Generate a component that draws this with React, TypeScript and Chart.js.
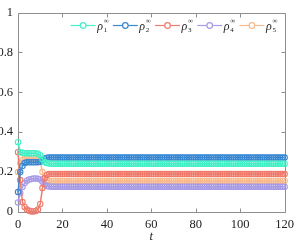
import React, { useEffect, useRef } from "react";
import { Chart, registerables } from "chart.js";
Chart.register(...registerables);

const tValues = [
  0, 1, 2, 3, 4, 5, 6, 7, 8, 9, 10, 11, 12, 13, 14, 15, 16, 17, 18, 19,
  20, 21, 22, 23, 24, 25, 26, 27, 28, 29, 30, 31, 32, 33, 34, 35, 36, 37, 38, 39,
  40, 41, 42, 43, 44, 45, 46, 47, 48, 49, 50, 51, 52, 53, 54, 55, 56, 57, 58, 59,
  60, 61, 62, 63, 64, 65, 66, 67, 68, 69, 70, 71, 72, 73, 74, 75, 76, 77, 78, 79,
  80, 81, 82, 83, 84, 85, 86, 87, 88, 89, 90, 91, 92, 93, 94, 95, 96, 97, 98, 99,
  100, 101, 102, 103, 104, 105, 106, 107, 108, 109, 110, 111, 112, 113, 114, 115, 116, 117, 118, 119,
  120,
];

const rho1 = [
  0.35, 0.30, 0.297, 0.295, 0.295, 0.295, 0.295, 0.295, 0.294, 0.292, 0.285, 0.265, 0.25, 0.245, 0.243,
  0.242, 0.242, 0.242, 0.242, 0.242, 0.242, 0.242, 0.242, 0.242, 0.242,
  0.242, 0.242, 0.242, 0.242, 0.242, 0.242, 0.242, 0.242, 0.242, 0.242,
  0.242, 0.242, 0.242, 0.242, 0.242, 0.242, 0.242, 0.242, 0.242, 0.242,
  0.242, 0.242, 0.242, 0.242, 0.242, 0.242, 0.242, 0.242, 0.242, 0.242,
  0.242, 0.242, 0.242, 0.242, 0.242, 0.242, 0.242, 0.242, 0.242, 0.242,
  0.242, 0.242, 0.242, 0.242, 0.242, 0.242, 0.242, 0.242, 0.242, 0.242,
  0.242, 0.242, 0.242, 0.242, 0.242, 0.242, 0.242, 0.242, 0.242, 0.242,
  0.242, 0.242, 0.242, 0.242, 0.242, 0.242, 0.242, 0.242, 0.242, 0.242,
  0.242, 0.242, 0.242, 0.242, 0.242, 0.242, 0.242, 0.242, 0.242, 0.242,
  0.242, 0.242, 0.242, 0.242, 0.242, 0.242, 0.242, 0.242, 0.242, 0.242,
  0.242, 0.242, 0.242, 0.242, 0.242, 0.242,
];

const rho2 = [
  0.10, 0.20, 0.23, 0.245, 0.25, 0.25, 0.25, 0.25, 0.25, 0.25, 0.252, 0.26, 0.268, 0.272, 0.273,
  0.273, 0.273, 0.273, 0.273, 0.273, 0.273, 0.273, 0.273, 0.273, 0.273,
  0.273, 0.273, 0.273, 0.273, 0.273, 0.273, 0.273, 0.273, 0.273, 0.273,
  0.273, 0.273, 0.273, 0.273, 0.273, 0.273, 0.273, 0.273, 0.273, 0.273,
  0.273, 0.273, 0.273, 0.273, 0.273, 0.273, 0.273, 0.273, 0.273, 0.273,
  0.273, 0.273, 0.273, 0.273, 0.273, 0.273, 0.273, 0.273, 0.273, 0.273,
  0.273, 0.273, 0.273, 0.273, 0.273, 0.273, 0.273, 0.273, 0.273, 0.273,
  0.273, 0.273, 0.273, 0.273, 0.273, 0.273, 0.273, 0.273, 0.273, 0.273,
  0.273, 0.273, 0.273, 0.273, 0.273, 0.273, 0.273, 0.273, 0.273, 0.273,
  0.273, 0.273, 0.273, 0.273, 0.273, 0.273, 0.273, 0.273, 0.273, 0.273,
  0.273, 0.273, 0.273, 0.273, 0.273, 0.273, 0.273, 0.273, 0.273, 0.273,
  0.273, 0.273, 0.273, 0.273, 0.273, 0.273,
];

const rho3 = [
  0.30, 0.16, 0.05, 0.025, 0.012, 0.006, 0.003, 0.003, 0.005, 0.012, 0.04, 0.12, 0.17, 0.185, 0.19,
  0.19, 0.19, 0.19, 0.19, 0.19, 0.19, 0.19, 0.19, 0.19, 0.19,
  0.19, 0.19, 0.19, 0.19, 0.19, 0.19, 0.19, 0.19, 0.19, 0.19,
  0.19, 0.19, 0.19, 0.19, 0.19, 0.19, 0.19, 0.19, 0.19, 0.19,
  0.19, 0.19, 0.19, 0.19, 0.19, 0.19, 0.19, 0.19, 0.19, 0.19,
  0.19, 0.19, 0.19, 0.19, 0.19, 0.19, 0.19, 0.19, 0.19, 0.19,
  0.19, 0.19, 0.19, 0.19, 0.19, 0.19, 0.19, 0.19, 0.19, 0.19,
  0.19, 0.19, 0.19, 0.19, 0.19, 0.19, 0.19, 0.19, 0.19, 0.19,
  0.19, 0.19, 0.19, 0.19, 0.19, 0.19, 0.19, 0.19, 0.19, 0.19,
  0.19, 0.19, 0.19, 0.19, 0.19, 0.19, 0.19, 0.19, 0.19, 0.19,
  0.19, 0.19, 0.19, 0.19, 0.19, 0.19, 0.19, 0.19, 0.19, 0.19,
  0.19, 0.19, 0.19, 0.19, 0.19, 0.19,
];

const rho4 = [
  0.048, 0.095, 0.125, 0.145, 0.157, 0.163, 0.166, 0.168, 0.168, 0.167, 0.163, 0.152, 0.138, 0.13, 0.128,
  0.127, 0.127, 0.127, 0.127, 0.127, 0.127, 0.127, 0.127, 0.127, 0.127,
  0.127, 0.127, 0.127, 0.127, 0.127, 0.127, 0.127, 0.127, 0.127, 0.127,
  0.127, 0.127, 0.127, 0.127, 0.127, 0.127, 0.127, 0.127, 0.127, 0.127,
  0.127, 0.127, 0.127, 0.127, 0.127, 0.127, 0.127, 0.127, 0.127, 0.127,
  0.127, 0.127, 0.127, 0.127, 0.127, 0.127, 0.127, 0.127, 0.127, 0.127,
  0.127, 0.127, 0.127, 0.127, 0.127, 0.127, 0.127, 0.127, 0.127, 0.127,
  0.127, 0.127, 0.127, 0.127, 0.127, 0.127, 0.127, 0.127, 0.127, 0.127,
  0.127, 0.127, 0.127, 0.127, 0.127, 0.127, 0.127, 0.127, 0.127, 0.127,
  0.127, 0.127, 0.127, 0.127, 0.127, 0.127, 0.127, 0.127, 0.127, 0.127,
  0.127, 0.127, 0.127, 0.127, 0.127, 0.127, 0.127, 0.127, 0.127, 0.127,
  0.127, 0.127, 0.127, 0.127, 0.127, 0.127,
];

const rho5 = [
  0.20, 0.245, 0.26, 0.268, 0.27, 0.27, 0.27, 0.27, 0.27, 0.268, 0.255, 0.20, 0.167, 0.158, 0.156,
  0.156, 0.156, 0.156, 0.156, 0.156, 0.156, 0.156, 0.156, 0.156, 0.156,
  0.156, 0.156, 0.156, 0.156, 0.156, 0.156, 0.156, 0.156, 0.156, 0.156,
  0.156, 0.156, 0.156, 0.156, 0.156, 0.156, 0.156, 0.156, 0.156, 0.156,
  0.156, 0.156, 0.156, 0.156, 0.156, 0.156, 0.156, 0.156, 0.156, 0.156,
  0.156, 0.156, 0.156, 0.156, 0.156, 0.156, 0.156, 0.156, 0.156, 0.156,
  0.156, 0.156, 0.156, 0.156, 0.156, 0.156, 0.156, 0.156, 0.156, 0.156,
  0.156, 0.156, 0.156, 0.156, 0.156, 0.156, 0.156, 0.156, 0.156, 0.156,
  0.156, 0.156, 0.156, 0.156, 0.156, 0.156, 0.156, 0.156, 0.156, 0.156,
  0.156, 0.156, 0.156, 0.156, 0.156, 0.156, 0.156, 0.156, 0.156, 0.156,
  0.156, 0.156, 0.156, 0.156, 0.156, 0.156, 0.156, 0.156, 0.156, 0.156,
  0.156, 0.156, 0.156, 0.156, 0.156, 0.156,
];

const seriesSubscripts = ["1", "2", "3", "4", "5"];
const seriesColors = ["#45f0c6", "#3a88d2", "#ef7b6c", "#a79ae6", "#f8b98c"];
const xTicks = [0, 20, 40, 60, 80, 100, 120];
const yTicks = [0, 0.2, 0.4, 0.6, 0.8, 1];

const SERIF = '"Liberation Serif", "DejaVu Serif", serif';
const FRAME = "#8e8e8e";

const framePlugin = {
  id: "frame",
  beforeDatasetsDraw(chart: any) {
    const { ctx, chartArea: a, scales } = chart;
    const x = scales.x;
    const y = scales.y;
    const L = Math.round(a.left) + 0.5;
    const R = Math.round(a.right) + 0.5;
    const T = Math.round(a.top) + 0.5;
    const B = Math.round(a.bottom) + 0.5;
    ctx.save();
    ctx.strokeStyle = FRAME;
    ctx.lineWidth = 1;
    ctx.beginPath();
    ctx.rect(L, T, R - L, B - T);
    ctx.stroke();
    const tl = 4;
    ctx.beginPath();
    for (const v of xTicks) {
      const px = Math.round(x.getPixelForValue(v)) + 0.5;
      ctx.moveTo(px, B);
      ctx.lineTo(px, B - tl);
      ctx.moveTo(px, T);
      ctx.lineTo(px, T + tl);
    }
    for (const v of yTicks) {
      const py = Math.round(y.getPixelForValue(v)) + 0.5;
      ctx.moveTo(L, py);
      ctx.lineTo(L + tl, py);
      ctx.moveTo(R, py);
      ctx.lineTo(R - tl, py);
    }
    ctx.stroke();
    ctx.restore();
  },
};

const legendPlugin = {
  id: "customLegend",
  afterDraw(chart: any) {
    const { ctx, chartArea: a } = chart;
    const startX = a.right - 214;
    const ly = a.top + 13;
    const step = 42.2;
    ctx.save();
    chart.data.datasets.forEach((ds: any, i: number) => {
      const x0 = startX + i * step;
      ctx.strokeStyle = ds.borderColor;
      ctx.lineWidth = 1.2;
      ctx.beginPath();
      ctx.moveTo(x0, ly);
      ctx.lineTo(x0 + 25, ly);
      ctx.stroke();
      ctx.beginPath();
      ctx.arc(x0 + 12.5, ly, 2.8, 0, Math.PI * 2);
      ctx.fillStyle = "#fff";
      ctx.fill();
      ctx.stroke();
      ctx.fillStyle = "#222";
      ctx.textBaseline = "middle";
      ctx.textAlign = "left";
      ctx.font = `italic 12px ${SERIF}`;
      ctx.fillText("ρ", x0 + 26.5, ly + 1.5);
      ctx.font = `7px ${SERIF}`;
      ctx.fillText("∞", x0 + 33, ly - 4);
      ctx.fillText(seriesSubscripts[i], x0 + 33, ly + 5);
    });
    ctx.restore();
  },
};

export default function App() {
  const ref = useRef<HTMLCanvasElement | null>(null);
  useEffect(() => {
    if (!ref.current) return;
    const series = [rho1, rho2, rho3, rho4, rho5];
    const chart = new Chart(ref.current, {
      type: "line",
      data: {
        labels: tValues,
        datasets: series.map((d, i) => ({
          label: "ρ" + seriesSubscripts[i] + "∞",
          data: d,
          borderColor: seriesColors[i],
          backgroundColor: "transparent",
          pointBackgroundColor: "transparent",
          pointBorderColor: seriesColors[i],
          borderWidth: 1.5,
          pointRadius: 2.7,
          pointBorderWidth: 1.1,
          tension: 0,
          clip: false as any,
        })),
      },
      options: {
        animation: false,
        responsive: false,
        events: [],
        layout: { padding: { top: 6, right: 10, bottom: 0, left: 0 } },
        plugins: {
          legend: { display: false },
          tooltip: { enabled: false },
        },
        scales: {
          x: {
            type: "linear",
            min: 0,
            max: 120,
            grid: { display: false, drawTicks: false },
            border: { display: false },
            afterBuildTicks: (s: any) => {
              s.ticks = xTicks.map((v) => ({ value: v }));
            },
            afterFit: (s: any) => {
              s.height = 32;
            },
            ticks: {
              padding: 5,
              color: "#222",
              font: { family: SERIF, size: 12.5 },
              maxRotation: 0,
            },
            title: {
              display: true,
              text: "t",
              color: "#222",
              font: { family: SERIF, size: 12.5, style: "italic" },
              padding: { top: 0, bottom: 0 },
            },
          },
          y: {
            min: 0,
            max: 1,
            grid: { display: false, drawTicks: false },
            border: { display: false },
            afterBuildTicks: (s: any) => {
              s.ticks = yTicks.map((v) => ({ value: v }));
            },
            afterFit: (s: any) => {
              s.width = 18;
            },
            ticks: {
              padding: 5,
              color: "#222",
              font: { family: SERIF, size: 12.5 },
              callback: (v: any) => (v === 0 ? "0" : v === 1 ? "1" : Number(v).toFixed(1)),
            },
          },
        },
      },
      plugins: [framePlugin, legendPlugin],
    });
    return () => chart.destroy();
  }, []);
  return (
    <div style={{ position: "fixed", left: 0, top: 0, width: 299, height: 244, background: "#fff" }}>
      <canvas ref={ref} width={299} height={244} />
    </div>
  );
}
